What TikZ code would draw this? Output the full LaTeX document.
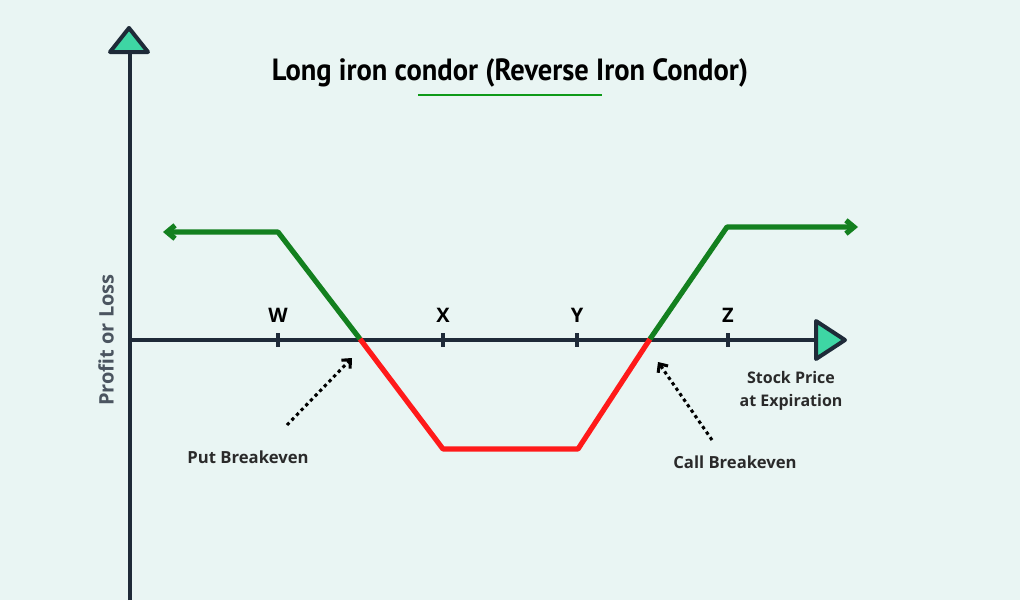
\documentclass[tikz,border=0pt]{standalone}
\usepackage{fontspec}
\setmainfont{Open Sans}
\newfontfamily\titlefont{PT Sans}
\usetikzlibrary{arrows.meta}
\definecolor{bg}{HTML}{E9F5F3}
\definecolor{axc}{HTML}{1E2A38}
\definecolor{tri}{HTML}{3ED6A4}
\definecolor{gr}{HTML}{13801F}
\definecolor{rd}{HTML}{FF1A1A}
\definecolor{lab}{HTML}{2A2A2A}
\begin{document}
\begin{tikzpicture}[x=0.75pt,y=-0.75pt,
  ax/.style={draw=axc,line width=2.8pt},
  trih/.style={draw=axc,fill=tri,line width=3pt,line join=round},
  pay/.style={line width=3.9pt,line join=round},
  lbl/.style={font=\fontsize{12.5}{17}\selectfont\bfseries,text=lab,align=center},
  tk/.style={font=\fontsize{15}{17}\selectfont\bfseries,text=black},
  dot/.style={draw=black,line width=2.3pt,dash pattern=on 2.5pt off 2.5pt,-{Straight Barb[length=5pt,width=9pt]}}]
\fill[bg] (0,0) rectangle (1020,600);
\useasboundingbox (0,0) rectangle (1020,600);
% axes
\coordinate (O) at (130,340);
\coordinate (yb) at (130,600);
\coordinate (yt) at (130,52);
\coordinate (xe) at (816,340);
\draw[ax] (yb) -- (yt);
\draw[ax] (O) -- (xe);
\draw[trih] (110,52) -- (148,52) -- (129,28) -- cycle;
\draw[trih] (816,321) -- (816,359) -- (845,340) -- cycle;
% ticks
\foreach \n/\x in {W/278,X/443,Y/577,Z/728}{
  \draw[axc,line width=3pt] (\x,333) -- (\x,347);
  \node[tk] (t\n) at (\x,315) {\n};
}
% payoff
\coordinate (a0) at (163,232); \coordinate (a1) at (278,232);
\coordinate (pb) at (360,339); \coordinate (b1) at (443,449);
\coordinate (b2) at (578,449); \coordinate (cb) at (650,339);
\coordinate (c1) at (727,227); \coordinate (c2) at (858,227);
\draw[pay,gr,{Straight Barb[length=6pt,width=10pt]}-] (a0) -- (a1) -- (pb);
\draw[pay,rd] (pb) -- (b1) -- (b2) -- (cb);
\draw[pay,gr,-{Straight Barb[length=6pt,width=10pt]}] (cb) -- (c1) -- (c2);
% labels
\node[lbl] (pbl) at (248,457) {Put Breakeven};
\node[lbl] (cbl) at (735,462) {Call Breakeven};
\node[lbl,font=\fontsize{12}{17}\selectfont\bfseries] (spl) at (791,391) {Stock Price\\at Expiration};
\node[lbl,rotate=90,font=\fontsize{15}{17}\selectfont\bfseries,text=axc!80] (pl) at (106,340) {Profit or Loss};
\coordinate (d1s) at (287,425); \coordinate (d1e) at (352,358);
\coordinate (d2s) at (712,440); \coordinate (d2e) at (658,362);
\draw[dot] (d1s) -- (d1e);
\draw[dot] (d2s) -- (d2e);
% title
\node[font=\titlefont\fontsize{23}{25}\selectfont\bfseries,xscale=0.93] (title) at (510,73) {Long iron condor (Reverse Iron Condor)};
\coordinate (u1) at (418,95); \coordinate (u2) at (602,95);
\draw[gr!80!green,line width=2pt] (u1) -- (u2);
\end{tikzpicture}
\end{document}
